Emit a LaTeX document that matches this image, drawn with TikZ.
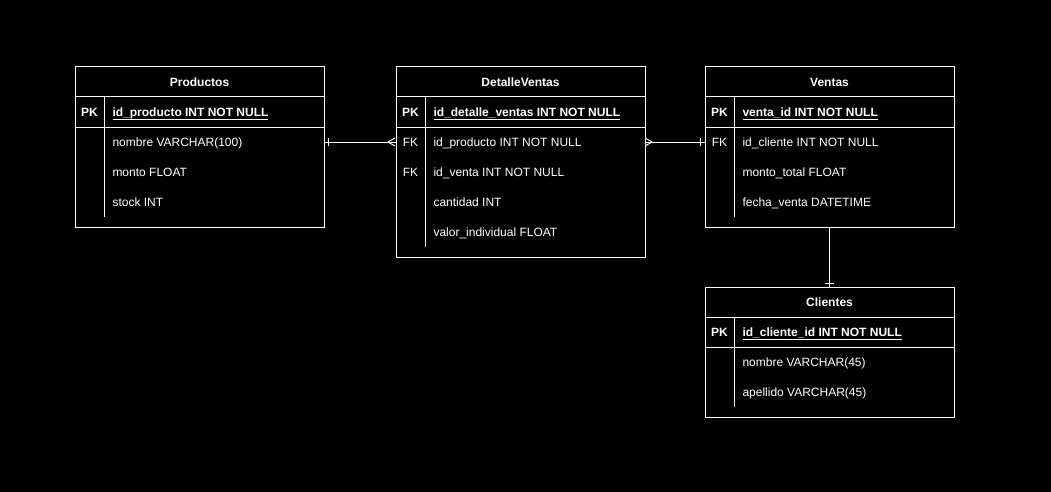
\documentclass[tikz,border=0pt]{standalone}
\usepackage{fontspec}
\setmainfont{Liberation Sans}
\newcommand\ulpk[1]{\setbox0=\hbox{#1}\rlap{\rule[-3.6pt]{\wd0}{0.9pt}}\box0}
\begin{document}
\begin{tikzpicture}[x=1pt,y=-1pt,line width=1pt]
\tikzset{
  tbox/.style={draw=white,line width=1pt,inner sep=0pt,outer sep=0pt,anchor=north west},
  sep/.style={draw=white,line width=1pt},
  conn/.style={draw=white,line width=1pt},
  ttl/.style={font=\fontsize{12}{14}\selectfont\bfseries,anchor=base,inner sep=0pt,text=white},
  pk/.style={font=\fontsize{12}{14}\selectfont\bfseries,anchor=base,inner sep=0pt,text=white},
  fk/.style={font=\fontsize{12}{14}\selectfont,anchor=base,inner sep=0pt,text=white},
  fld/.style={font=\fontsize{12}{14}\selectfont,anchor=base west,inner sep=0pt,text=white},
  pkfld/.style={font=\fontsize{12}{14}\selectfont\bfseries,anchor=base west,inner sep=0pt,text=white},
}
\useasboundingbox (0,0) rectangle (1051,492);
\fill[black] (0,0) rectangle (1051,492);

% ---------------- Productos
\node[tbox,minimum width=249pt,minimum height=160pt] (prod) at (75,67) {};
\draw[sep] (75,97) -- (324,97) (75,127) -- (324,127) (104,97) -- (104,217);
\node[ttl] (prodT) at (199.5,86.3) {Productos};
\node[pk] (prodPK) at (89.5,116.3) {PK};
\node[pkfld] (prodId) at (112,116.3) {\ulpk{id\_producto INT NOT NULL}};
\node[fld] (prodNom) at (112,146.3) {nombre VARCHAR(100)};
\node[fld] (prodMon) at (112,176.3) {monto FLOAT};
\node[fld] (prodSto) at (112,206.3) {stock INT};

% ---------------- DetalleVentas
\node[tbox,minimum width=249pt,minimum height=190pt] (dv) at (396,67) {};
\draw[sep] (396,97) -- (645,97) (396,127) -- (645,127) (425,97) -- (425,247);
\node[ttl] (dvT) at (520.5,86.3) {DetalleVentas};
\node[pk] (dvPK) at (410.5,116.3) {PK};
\node[pkfld] (dvId) at (433,116.3) {\ulpk{id\_detalle\_ventas INT NOT NULL}};
\node[fk] (dvFK1) at (410.5,146.3) {FK};
\node[fld] (dvProd) at (433,146.3) {id\_producto INT NOT NULL};
\node[fk] (dvFK2) at (410.5,176.3) {FK};
\node[fld] (dvVen) at (433,176.3) {id\_venta INT NOT NULL};
\node[fld] (dvCan) at (433,206.3) {cantidad INT};
\node[fld] (dvVal) at (433,236.3) {valor\_individual FLOAT};

% ---------------- Ventas
\node[tbox,minimum width=249pt,minimum height=160pt] (ven) at (705,67) {};
\draw[sep] (705,97) -- (954,97) (705,127) -- (954,127) (734,97) -- (734,217);
\node[ttl] (venT) at (829.5,86.3) {Ventas};
\node[pk] (venPK) at (719.5,116.3) {PK};
\node[pkfld] (venId) at (742,116.3) {\ulpk{venta\_id INT NOT NULL}};
\node[fk] (venFK) at (719.5,146.3) {FK};
\node[fld] (venCli) at (742,146.3) {id\_cliente INT NOT NULL};
\node[fld] (venMon) at (742,176.3) {monto\_total FLOAT};
\node[fld] (venFec) at (742,206.3) {fecha\_venta DATETIME};

% ---------------- Clientes
\node[tbox,minimum width=249pt,minimum height=130pt] (cli) at (705,287) {};
\draw[sep] (705,317) -- (954,317) (705,347) -- (954,347) (734,317) -- (734,407);
\node[ttl] (cliT) at (829.5,306.3) {Clientes};
\node[pk] (cliPK) at (719.5,336.3) {PK};
\node[pkfld] (cliId) at (742,336.3) {\ulpk{id\_cliente\_id INT NOT NULL}};
\node[fld] (cliNom) at (742,366.3) {nombre VARCHAR(45)};
\node[fld] (cliApe) at (742,396.3) {apellido VARCHAR(45)};

% ---------------- connectors
\coordinate (rowA) at (0,142);
% Productos -> DetalleVentas
\draw[conn] (prod.east |- rowA) -- (dv.west |- rowA);
\draw[conn] ([xshift=4pt]prod.east |- rowA) ++(0,-4) -- ++(0,8);
\draw[conn] ([xshift=-8pt]dv.west |- rowA) -- ++(7,-4)
            ([xshift=-8pt]dv.west |- rowA) -- ++(7,4);
% DetalleVentas -> Ventas
\draw[conn] (dv.east |- rowA) -- (ven.west |- rowA);
\draw[conn] ([xshift=7pt]dv.east |- rowA) -- ++(-7,-4)
            ([xshift=7pt]dv.east |- rowA) -- ++(-7,4);
\draw[conn] ([xshift=-5pt]ven.west |- rowA) ++(0,-4) -- ++(0,8);
% Ventas -> Clientes
\draw[conn] (ven.south) -- (cli.north);
\draw[conn] ([yshift=4pt]cli.north) ++(-4.5,0) -- ++(9,0);
\end{tikzpicture}
\end{document}
